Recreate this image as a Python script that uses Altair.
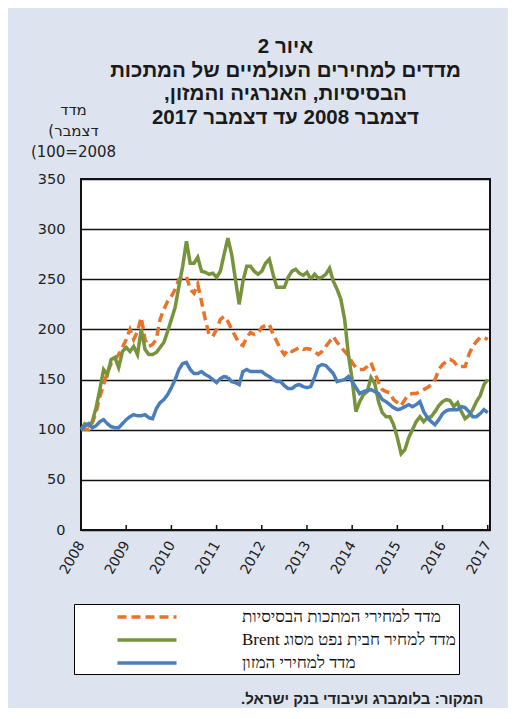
import altair as alt
import pandas as pd

RLE = "\u202B"
PDF = "\u202C"
NBSP = "\u00A0"

# x axis: monthly index, 0 = Dec 2008 ... 108 = Dec 2017
years = ["2008", "2009", "2010", "2011", "2012", "2013", "2014", "2015", "2016", "2017"]
tick_months = [0, 12, 24, 36, 48, 60, 72, 84, 96, 108]
y_ticks = [0, 50, 100, 150, 200, 250, 300, 350]

names = [
    "מדד למחירי המתכות הבסיסיות",
    "מדד למחיר חבית נפט מסוג Brent",
    "מדד למחירי המזון",
]

metals = [100, 101, 100, 107, 117, 133, 145, 157, 166, 170,
          175, 182, 190, 200, 190, 198, 212, 190, 183, 185,
          190, 210, 220, 228, 233, 240, 250, 252, 253, 240,
          236, 245, 228, 210, 195, 193, 200, 210, 213, 208,
          200, 193, 186, 184, 192, 197, 195, 196, 202, 204,
          205, 195, 188, 180, 175, 180, 178, 180, 182, 180,
          181, 180, 178, 175, 178, 183, 188, 193, 187, 183,
          178, 174, 167, 162, 160, 160, 163, 167, 157, 147,
          140, 138, 137, 130, 127, 124, 130, 135, 136, 136,
          138, 140, 142, 145, 150, 160, 165, 168, 170, 168,
          163, 163, 163, 175, 183, 188, 192, 192, 190]

brent = [100, 106, 104, 108, 122, 140, 160, 155, 170, 172,
         162, 178, 182, 178, 183, 175, 200, 180, 175, 175,
         177, 182, 187, 198, 210, 222, 243, 263, 288, 266,
         266, 272, 258, 257, 255, 256, 252, 258, 275, 291,
         275, 250, 225, 248, 263, 263, 258, 255, 258, 266,
         270, 255, 242, 242, 242, 252, 258, 260, 256, 254,
         257, 250, 255, 251, 252, 255, 261, 248, 240, 230,
         210, 175, 150, 118, 128, 135, 138, 152, 146, 128,
         117, 113, 113, 105, 92, 76, 80, 92, 100, 108,
         113, 108, 112, 113, 118, 124, 128, 130, 129, 123,
         127, 118, 111, 114, 120, 128, 134, 145, 150]

food = [100, 104, 106, 102, 104, 108, 110, 106, 103, 102,
        102, 106, 110, 113, 115, 114, 114, 115, 112, 111,
        121, 127, 130, 135, 142, 150, 160, 166, 167, 160,
        156, 156, 158, 155, 153, 150, 147, 151, 153, 152,
        148, 147, 145, 158, 160, 158, 158, 158, 158, 155,
        153, 150, 148, 148, 144, 141, 141, 144, 145, 143,
        142, 143, 152, 163, 165, 164, 160, 156, 148, 149,
        150, 153, 148, 142, 136, 138, 139, 140, 138, 136,
        130, 128, 125, 122, 120, 121, 123, 125, 123, 125,
        128, 118, 112, 108, 105, 110, 116, 119, 120, 120,
        120, 123, 122, 118, 113, 113, 116, 120, 117]

colors = ["#E9732B", "#77933C", "#4A7EBB"]
dashes = [[9, 5], [1, 0], [1, 0]]

rows = []
for name, series in zip(names, [metals, brent, food]):
    for i, v in enumerate(series):
        rows.append({"month": i, "value": v, "series": name})
df = pd.DataFrame(rows)
ticks_df = pd.DataFrame({"month": tick_months})

W, H = 409, 351

title_lines = [
    "איור 2",
    "מדדים למחירים העולמיים של המתכות",
    "הבסיסיות, האנרגיה והמזון,",
    "דצמבר 2008 עד דצמבר 2017",
]
# visual order as in the original: the parenthesis sits on the left
y_title = ["מדד", RLE + "דצמבר)" + PDF, "(100=2008"]
source = "המקור: בלומברג ועיבודי בנק ישראל."

year_array = "[" + ",".join("'" + y + "'" for y in years) + "]"

legend = alt.Legend(
    orient="none", legendX=-7, legendY=425, title=None,
    fillColor="white", strokeColor="black", padding=3,
    symbolType="M-3.69,0H3.69", symbolSize=256, symbolStrokeWidth=3.5,
    symbolOffset=60, labelOffset=85,
    labelFont="Liberation Serif", labelFontSize=17, labelColor="#111111",
    labelLimit=600, rowPadding=5,
    labelExpr="'" + RLE + "' + datum.label + '" + PDF + NBSP * 8 + "'",
)

lines = alt.Chart(df).mark_line(strokeWidth=3.5).encode(
    x=alt.X(
        "month:Q",
        scale=alt.Scale(domain=[0, 108.6], nice=False, zero=False),
        axis=alt.Axis(
            values=tick_months,
            labelExpr=year_array + "[round(datum.value / 12)]",
            labelAngle=-60, labelAlign="right", labelBaseline="middle",
            labelPadding=12, labelFont="DejaVu Sans", labelFontSize=14,
            labelColor="#222222", grid=False, domain=False, ticks=False,
            title=RLE + source + PDF, titleX=402, titleY=168,
            titleAlign="right", titleAnchor="end", titleBaseline="middle",
            titleFont="Liberation Sans", titleFontSize=15, titleFontWeight="bold",
            titleColor="#222222",
        ),
    ),
    y=alt.Y(
        "value:Q",
        scale=alt.Scale(domain=[0, 350], nice=False),
        axis=alt.Axis(
            values=y_ticks, grid=True, gridColor="#111111", gridWidth=1.5,
            domain=False, ticks=False, labelPadding=16,
            labelFont="DejaVu Sans", labelFontSize=14.5, labelColor="#222222",
            title=y_title, titleAngle=0, titleX=-8, titleY=-65,
            titleAlign="center", titleBaseline="alphabetic", titleLineHeight=21,
            titleFont="DejaVu Sans", titleFontSize=15, titleFontWeight="normal",
            titleColor="#222222",
        ),
    ),
    color=alt.Color("series:N", sort=names,
                    scale=alt.Scale(domain=names, range=colors), legend=legend),
    strokeDash=alt.StrokeDash("series:N", sort=names,
                              scale=alt.Scale(domain=names, range=dashes), legend=legend),
)

tick_marks = alt.Chart(ticks_df).mark_rule(color="#111111", strokeWidth=1.5).encode(
    x=alt.X("month:Q"),
    y=alt.value(H - 5),
    y2=alt.value(H),
)

chart = alt.layer(lines, tick_marks).properties(
    width=W, height=H,
    autosize=alt.AutoSizeParams(type="none"),
    padding={"left": 73, "top": 171, "right": 18, "bottom": 178},
    background="#DDE4EF",
    title=alt.Title(
        [RLE + t + PDF for t in title_lines],
        anchor="middle", offset=-26, fontSize=20.5, font="Liberation Sans",
        fontWeight="bold", color="#1a1a1a", lineHeight=23.5,
    ),
).configure_view(
    fill="white", stroke="#111111", strokeWidth=2,
)

chart.save("out.html", embed_options={"renderer": "svg", "actions": False})
